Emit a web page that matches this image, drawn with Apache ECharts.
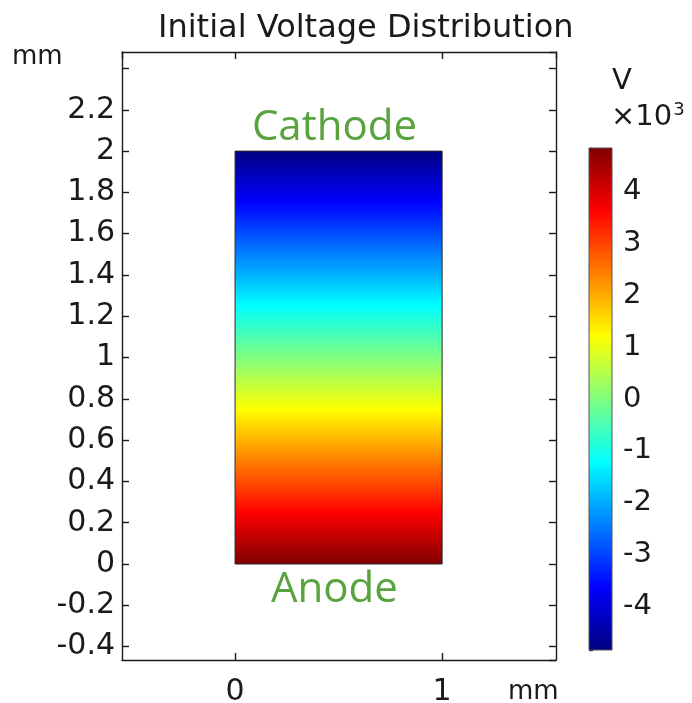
<!DOCTYPE html>
<html>
<head>
<meta charset="utf-8">
<script src="https://cdn.jsdelivr.net/npm/echarts@6/dist/echarts.min.js"></script>
<style>
  html, body { margin: 0; padding: 0; background: #fff; }
  #chart { width: 692px; height: 703px; }
</style>
</head>
<body>
<div id="chart"></div>
<script>
// Geometry of the electrode gap (mm): [x0, x1, y0, y1]
const domain = [0, 1, 0, 2];
// Potential at the cathode (top, y = 2 mm) and the anode (bottom, y = 0) in kV
const cathodeVoltage = -4.83;
const anodeVoltage = 4.83;
// Colour range of the legend bar (kV)
const colorRange = [-4.83, 4.83];
// Rainbow colour table: [fraction, colour]
const rainbow = [
  [0.0, '#00007f'],
  [0.125, '#0000ff'],
  [0.375, '#00ffff'],
  [0.625, '#ffff00'],
  [0.875, '#ff0000'],
  [1.0, '#7f0000']
];
// Axis views (mm)
const xRange = [-0.546, 1.55];
const yRange = [-0.465, 2.48];
// Tick labels
const xTickLabels = ['0', '1'];
const yTickLabels = ['-0.4', '-0.2', '0', '0.2', '0.4', '0.6', '0.8', '1', '1.2', '1.4', '1.6', '1.8', '2', '2.2'];
const cbTickLabels = ['-4', '-3', '-2', '-1', '0', '1', '2', '3', '4'];

const FONT = 'DejaVu Sans';
const INK = '#1a1a1a';

function labelFrom(list) {
  return function (v) {
    const s = String(+Number(v).toFixed(3));
    return list.indexOf(s) >= 0 ? s : '';
  };
}

// Gradient stops along a strip whose ends carry potentials vStart (top) and vEnd (bottom)
function gradientStops(vStart, vEnd) {
  const stops = [];
  const span = colorRange[1] - colorRange[0];
  rainbow.forEach(function (s) {
    const v = colorRange[0] + s[0] * span;
    const t = (v - vStart) / (vEnd - vStart);
    if (t >= 0 && t <= 1) stops.push({ offset: t, color: s[1] });
  });
  stops.sort(function (a, b) { return a.offset - b.offset; });
  return stops;
}

const axisLineStyle = { color: INK, width: 1.4 };
const tickStyle = { color: INK, width: 1.4 };

const chart = echarts.init(document.getElementById('chart'), null, { renderer: 'canvas' });

chart.setOption({
  backgroundColor: '#ffffff',
  animation: false,
  title: {
    text: 'Initial Voltage Distribution',
    left: 153,
    top: 8,
    textStyle: { fontFamily: FONT, fontSize: 32, fontWeight: 'normal', color: INK }
  },
  grid: [
    { left: 122, top: 52, width: 434, height: 608, containLabel: false, outerBoundsMode: 'none' },
    { left: 589, top: 148, width: 23, height: 502, containLabel: false, outerBoundsMode: 'none' }
  ],
  xAxis: [
    {
      gridIndex: 0, type: 'value', position: 'bottom',
      min: xRange[0], max: xRange[1], minInterval: 1, maxInterval: 1,
      axisLine: { show: true, onZero: false, lineStyle: axisLineStyle },
      axisTick: { show: true, inside: true, length: 7, lineStyle: tickStyle },
      axisLabel: { formatter: labelFrom(xTickLabels), margin: 17, fontFamily: FONT, fontSize: 30, color: INK, showMinLabel: false, showMaxLabel: false },
      splitLine: { show: false }
    },
    {
      gridIndex: 0, type: 'value', position: 'top',
      min: xRange[0], max: xRange[1], minInterval: 1, maxInterval: 1,
      axisLine: { show: true, onZero: false, lineStyle: axisLineStyle },
      axisTick: { show: true, inside: true, length: 7, lineStyle: tickStyle },
      axisLabel: { show: false },
      splitLine: { show: false }
    },
    {
      gridIndex: 1, type: 'value', min: 0, max: 1, show: false
    }
  ],
  yAxis: [
    {
      gridIndex: 0, type: 'value', position: 'left',
      min: yRange[0], max: yRange[1], minInterval: 0.2, maxInterval: 0.2,
      axisLine: { show: true, onZero: false, lineStyle: axisLineStyle },
      axisTick: { show: true, inside: true, length: 7, lineStyle: tickStyle },
      axisLabel: { formatter: labelFrom(yTickLabels), margin: 7, fontFamily: FONT, fontSize: 30, color: INK, showMinLabel: false, showMaxLabel: false },
      splitLine: { show: false }
    },
    {
      gridIndex: 0, type: 'value', position: 'right',
      min: yRange[0], max: yRange[1], minInterval: 0.2, maxInterval: 0.2,
      axisLine: { show: true, onZero: false, lineStyle: axisLineStyle },
      axisTick: { show: true, inside: true, length: 7, lineStyle: tickStyle },
      axisLabel: { show: false },
      splitLine: { show: false }
    },
    {
      gridIndex: 1, type: 'value', position: 'left',
      min: colorRange[0], max: colorRange[1], minInterval: 1, maxInterval: 1,
      axisLine: { show: false },
      axisTick: { show: true, inside: true, length: 4, lineStyle: { color: INK, width: 1.3 } },
      axisLabel: { show: false },
      splitLine: { show: false }
    },
    {
      gridIndex: 1, type: 'value', position: 'right',
      min: colorRange[0], max: colorRange[1], minInterval: 1, maxInterval: 1,
      axisLine: { show: false },
      axisTick: { show: true, inside: true, length: 4, lineStyle: { color: INK, width: 1.3 } },
      axisLabel: { formatter: labelFrom(cbTickLabels), margin: 11, fontFamily: FONT, fontSize: 29, color: INK, showMinLabel: false, showMaxLabel: false },
      splitLine: { show: false }
    }
  ],
  series: [
    {
      // Potential field in the gap, coloured through the rainbow table
      type: 'custom',
      xAxisIndex: 0, yAxisIndex: 0,
      data: [[domain[0], domain[1], domain[2], domain[3], cathodeVoltage, anodeVoltage]],
      renderItem: function (params, api) {
        const p0 = api.coord([api.value(0), api.value(3)]);
        const p1 = api.coord([api.value(1), api.value(2)]);
        const mid = (api.value(0) + api.value(1)) / 2 - 0.02;
        const cTop = api.coord([mid, api.value(3)]);
        const cBot = api.coord([mid, api.value(2)]);
        return {
          type: 'group',
          children: [
            {
              type: 'rect',
              shape: { x: p0[0], y: p0[1], width: p1[0] - p0[0], height: p1[1] - p0[1] },
              style: {
                fill: new echarts.graphic.LinearGradient(0, 0, 0, 1, gradientStops(api.value(4), api.value(5))),
                stroke: '#2a2a2a', lineWidth: 1
              }
            },
            {
              type: 'text',
              style: {
                text: 'Cathode', x: cTop[0], y: cTop[1] - 2,
                align: 'center', verticalAlign: 'bottom',
                fontFamily: 'Open Sans', fontSize: 42, fill: '#59a33f'
              }
            },
            {
              type: 'text',
              style: {
                text: 'Anode', x: cBot[0], y: cBot[1] + 5,
                align: 'center', verticalAlign: 'top',
                fontFamily: 'Open Sans', fontSize: 42, fill: '#59a33f'
              }
            }
          ]
        };
      }
    },
    {
      // Legend colour bar
      type: 'custom',
      xAxisIndex: 2, yAxisIndex: 2,
      data: [[0, 1, colorRange[0], colorRange[1]]],
      renderItem: function (params, api) {
        const p0 = api.coord([api.value(0), api.value(3)]);
        const p1 = api.coord([api.value(1), api.value(2)]);
        return {
          type: 'rect',
          z2: -1,
          shape: { x: p0[0], y: p0[1], width: p1[0] - p0[0], height: p1[1] - p0[1] },
          style: {
            fill: new echarts.graphic.LinearGradient(0, 0, 0, 1, gradientStops(api.value(3), api.value(2))),
            stroke: '#555', lineWidth: 1
          }
        };
      }
    }
  ],
  graphic: [
    { type: 'text', left: 12, top: 44, style: { text: 'mm', fontFamily: FONT, fontSize: 26, fill: INK } },
    { type: 'text', left: 508, top: 679, style: { text: 'mm', fontFamily: FONT, fontSize: 26, fill: INK } },
    { type: 'text', left: 612, top: 67, style: { text: 'V', fontFamily: FONT, fontSize: 29, fill: INK } },
    {
      type: 'text', left: 611, top: 101,
      style: {
        text: '×10{sup|3}',
        fontFamily: FONT, fontSize: 29, fill: INK,
        rich: { sup: { fontFamily: FONT, fontSize: 18, verticalAlign: 'top', padding: [0, 0, 14, 1] } }
      }
    }
  ]
});
</script>
</body>
</html>
